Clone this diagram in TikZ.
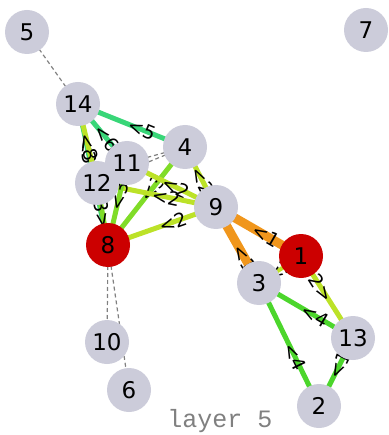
\documentclass[tikz,border=0pt]{standalone}
\usepackage{fontspec}
\setmainfont{DejaVu Sans}
\newfontfamily\layerfont{Liberation Mono}
\usetikzlibrary{backgrounds}
\definecolor{vgray}{HTML}{CCCCDA}
\definecolor{vred}{HTML}{CC0000}
\definecolor{eorange}{HTML}{F0961C}
\definecolor{eyellow}{HTML}{BCE228}
\definecolor{elime}{HTML}{80DC28}
\definecolor{egreen}{HTML}{4CD62C}
\definecolor{eteal}{HTML}{38D678}
\definecolor{dgray}{HTML}{808080}
\begin{document}
\begin{tikzpicture}[x=1pt,y=-1pt,
  vtx/.style={circle,fill=vgray,minimum size=44pt,inner sep=0pt,font=\fontsize{23}{23}\selectfont},
  hot/.style={vtx,fill=vred},
  elab/.style={sloped,inner sep=0pt,text=black,font=\fontsize{19}{19}\selectfont},
  thin edge/.style={dgray,line width=1.2pt,dash pattern=on 4pt off 3pt},
  edge/.style={line width=5pt},
  heavy/.style={eorange,line width=9pt}]
  \useasboundingbox (0,0) rectangle (388,435);
  \node[vtx] (n5) at (27,32) {5};
  \node[vtx] (n7) at (366,30) {7};
  \node[vtx] (n14) at (78,104) {14};
  \node[vtx] (n4) at (185,147) {4};
  \node[vtx] (n12) at (97,183) {12};
  \node[vtx] (n11) at (127,163) {11};
  \node[vtx] (n9) at (216,207) {9};
  \node[hot] (n8) at (108,245) {8};
  \node[vtx] (n3) at (259,283) {3};
  \node[hot] (n1) at (301,256) {1};
  \node[vtx] (n13) at (353,338) {13};
  \node[vtx] (n10) at (107,342) {10};
  \node[vtx] (n6) at (129,390) {6};
  \node[vtx] (n2) at (319,406) {2};
  \node[font=\layerfont\fontsize{25}{25}\selectfont,text=dgray,inner sep=0pt] (layer) at (220,421) {layer 5};
  \begin{scope}[on background layer]
    \draw[thin edge] (n5.center) -- (n14.center);
    \draw[thin edge] (n11.center) -- (n4.center);
    \draw[thin edge] (n12.center) -- (n4.center);
    \draw[thin edge] (n8.center) -- (n10.center);
    \draw[thin edge] (n8.center) -- (n6.center);
    \draw[edge,eteal] (n14.center) -- node[elab,pos=0.6] {<5} (n4.center);
    \draw[edge,eteal] (n14.center) -- node[elab,pos=0.58] {<6} (n11.center);
    \draw[edge,eteal] (n14.center) -- node[elab,pos=0.33] {<3} (n8.center);
    \draw[edge,eyellow] (n14.center) -- node[elab,pos=0.55] {<8} (n12.center);
    \draw[edge,elime] (n8.center) -- node[elab,pos=0.58] {<3} (n4.center);
    \draw[edge,eyellow] (n4.center) -- node[elab,pos=0.57] {<2} (n9.center);
    \draw[edge,eyellow] (n9.center) -- node[elab,pos=0.45] {<2} (n11.center);
    \draw[edge,eyellow] (n9.center) -- node[elab,pos=0.42] {<2} (n12.center);
    \draw[edge,eyellow] (n8.center) -- node[elab,pos=0.6] {<2} (n9.center);
    \draw[edge,elime] (n11.center) -- node[elab,pos=0.4] {<3} (n8.center);
    \draw[edge,elime] (n12.center) -- node[elab,pos=0.5] {3>} (n8.center);
    \draw[heavy] (n9.center) -- node[elab,pos=0.59] {<1} (n1.center);
    \draw[heavy] (n9.center) -- node[elab,pos=0.67] {<1} (n3.center);
    \draw[eyellow,line width=4pt] (n3.center) -- node[elab,pos=0.5] {<2} (n1.center);
    \draw[edge,eyellow] (n1.center) -- node[elab,pos=0.39] {2>} (n13.center);
    \draw[edge,egreen] (n3.center) -- node[elab,pos=0.6] {<4} (n13.center);
    \draw[edge,egreen] (n3.center) -- node[elab,pos=0.6] {<4} (n2.center);
    \draw[edge,egreen] (n2.center) -- node[elab,pos=0.6] {<1} (n13.center);
  \end{scope}
\end{tikzpicture}
\end{document}
